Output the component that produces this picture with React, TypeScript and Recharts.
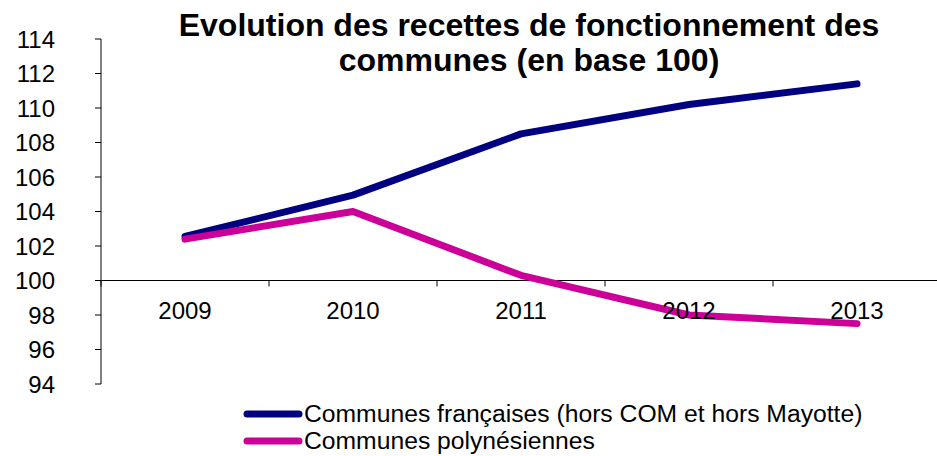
import { FC } from 'react';
import { LineChart, Line, XAxis, YAxis, ReferenceLine } from 'recharts';

// Years on the category axis
const years = ['2009', '2010', '2011', '2012', '2013'];

// Index values (base 100)
const francaises = [102.55, 104.95, 108.5, 110.2, 111.4];
const polynesiennes = [102.4, 104.0, 100.3, 98.0, 97.5];

const yTicks = [94, 96, 98, 100, 102, 104, 106, 108, 110, 112, 114];

const seriesNames = [
  'Communes françaises (hors COM et hors Mayotte)',
  'Communes polynésiennes'
];
const seriesColors = ['#000080', '#CC0099'];

const titleLines = [
  'Evolution des recettes de fonctionnement des',
  'communes (en base 100)'
];

const FONT = '"Liberation Sans", Arial, sans-serif';
const CHART_W = 941;
const CHART_H = 456;
const MARGIN = { top: 39, right: 0, bottom: 42, left: 0 };
const X_AXIS_H = 30;
const PLOT_H = CHART_H - MARGIN.top - MARGIN.bottom - X_AXIS_H;
const HALF_BAND = 84;
const Y_MIN = 94;
const Y_MAX = 114;
const Y_CROSS = 100;
const Y_CROSS_PX = MARGIN.top + (PLOT_H * (Y_MAX - Y_CROSS)) / (Y_MAX - Y_MIN);

const chartData = years.map((year, i) => ({
  year,
  fr: francaises[i],
  pf: polynesiennes[i]
}));

// Category labels sit just below the horizontal axis that crosses at 100
const YearTick = (props: any) => {
  const { x, payload } = props;
  return (
    <g>
      <line
        x1={x - HALF_BAND}
        x2={x - HALF_BAND}
        y1={Y_CROSS_PX}
        y2={Y_CROSS_PX + 6}
        stroke="#000"
        strokeWidth={1}
      />
      <text
        x={x}
        y={Y_CROSS_PX + 38}
        textAnchor="middle"
        fill="#000"
        fontSize={24}
        fontFamily={FONT}
      >
        {payload.value}
      </text>
    </g>
  );
};

const App: FC = () => {
  return (
    <div
      style={{
        position: 'absolute',
        left: 0,
        top: 0,
        width: 937,
        height: 456,
        overflow: 'hidden',
        background: '#fff',
        fontFamily: FONT
      }}
    >
      <LineChart width={CHART_W} height={CHART_H} data={chartData} margin={MARGIN}>
        <YAxis
          width={101}
          domain={[Y_MIN, Y_MAX]}
          ticks={yTicks}
          interval={0}
          allowDataOverflow
          tickSize={6}
          tickMargin={40}
          axisLine={{ stroke: '#000', strokeWidth: 1 }}
          tickLine={{ stroke: '#000', strokeWidth: 1 }}
          tick={{ fill: '#000', fontSize: 24, fontFamily: FONT }}
        />
        <XAxis
          dataKey="year"
          height={X_AXIS_H}
          padding={{ left: HALF_BAND, right: HALF_BAND }}
          axisLine={false}
          tickLine={false}
          interval={0}
          tick={<YearTick />}
        />
        <ReferenceLine y={Y_CROSS} stroke="#000" strokeWidth={1} />
        <Line
          type="linear"
          dataKey="fr"
          stroke={seriesColors[0]}
          strokeWidth={7}
          strokeLinecap="round"
          strokeLinejoin="round"
          dot={false}
          activeDot={false}
          isAnimationActive={false}
        />
        <Line
          type="linear"
          dataKey="pf"
          stroke={seriesColors[1]}
          strokeWidth={7}
          strokeLinecap="round"
          strokeLinejoin="round"
          dot={false}
          activeDot={false}
          isAnimationActive={false}
        />
      </LineChart>

      {/* Title */}
      <div
        style={{
          position: 'absolute',
          left: 129,
          width: 800,
          top: 8,
          textAlign: 'center',
          fontWeight: 700,
          fontSize: 32,
          lineHeight: '35px',
          color: '#000',
          whiteSpace: 'nowrap'
        }}
      >
        {titleLines.map((t) => (
          <div key={t}>{t}</div>
        ))}
      </div>

      {/* Legend */}
      <div style={{ position: 'absolute', left: 243, top: 400 }}>
        {seriesNames.map((name, i) => (
          <div
            key={name}
            style={{ display: 'flex', alignItems: 'center', height: 27, fontSize: 24.7, color: '#000' }}
          >
            <svg width={60} height={10} style={{ marginRight: 1 }}>
              <line x1={4} x2={56} y1={5} y2={5} stroke={seriesColors[i]} strokeWidth={7} strokeLinecap="round" />
            </svg>
            <span>{name}</span>
          </div>
        ))}
      </div>
    </div>
  );
};

export default App;
